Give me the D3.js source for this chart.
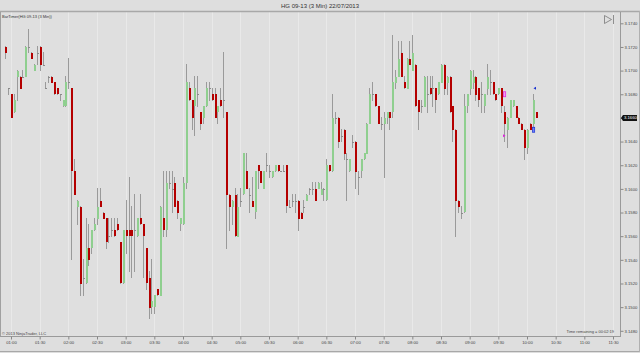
<!DOCTYPE html>
<html><head><meta charset="utf-8">
<script src="https://cdn.jsdelivr.net/npm/d3@7"></script>
<style>
html,body{margin:0;padding:0;background:#dedede;}
svg{display:block;}
text{font-family:"Liberation Sans",Arial,sans-serif;}
</style></head><body>
<svg id="c" width="640" height="353"></svg>
<script>
const title = "HG 09-13 (3 Min)  22/07/2013";
const indicatorLabel = "BarTimer(HG 09-13 (3 Min))";
const copyright = "© 2013 NinjaTrader, LLC";
const timerText = "Time remaining = 00:02:19";
const sessionDate = "2013-07-22";
const firstBarTime = "00:54";
const barMinutes = 3;

const open = [
3.1720,3.1685,3.1680,3.1665,3.1695,3.1695,3.1695,3.1695,3.1720,3.1715,
3.1700,3.1715,3.1720,3.1705,3.1685,3.1695,3.1695,3.1690,3.1685,3.1680,
3.1670,3.1670,3.1690,3.1685,3.1615,3.1585,3.1585,3.1525,3.1520,3.1550,
3.1550,3.1565,3.1575,3.1590,3.1580,3.1575,3.1560,3.1565,3.1565,3.1570,
3.1555,3.1520,3.1565,3.1565,3.1565,3.1565,3.1560,3.1575,3.1570,3.1550,
3.1525,3.1500,3.1500,3.1515,3.1510,3.1575,3.1565,3.1605,3.1600,3.1605,
3.1590,3.1570,3.1570,3.1605,3.1685,3.1675,3.1670,3.1680,3.1665,3.1660,
3.1670,3.1685,3.1680,3.1680,3.1665,3.1675,3.1675,3.1665,3.1595,3.1585,
3.1595,3.1560,3.1590,3.1595,3.1615,3.1595,3.1590,3.1580,3.1620,3.1615,
3.1600,3.1620,3.1615,3.1610,3.1615,3.1620,3.1615,3.1615,3.1620,3.1585,
3.1590,3.1590,3.1590,3.1580,3.1585,3.1590,3.1600,3.1600,3.1600,3.1600,
3.1595,3.1600,3.1590,3.1620,3.1615,3.1660,3.1660,3.1645,3.1650,3.1625,
3.1615,3.1640,3.1640,3.1610,3.1615,3.1625,3.1630,3.1655,3.1680,3.1680,
3.1670,3.1655,3.1655,3.1660,3.1665,3.1665,3.1690,3.1695,3.1715,3.1690,
3.1685,3.1710,3.1700,3.1705,3.1675,3.1670,3.1670,3.1680,3.1685,3.1685,
3.1685,3.1680,3.1690,3.1705,3.1690,3.1695,3.1670,3.1650,3.1590,3.1580,
3.1580,3.1670,3.1685,3.1690,3.1695,3.1685,3.1680,3.1670,3.1685,3.1690,
3.1690,3.1680,3.1680,3.1685,3.1665,3.1650,3.1660,3.1670,3.1670,3.1660,
3.1655,3.1650,3.1635,3.1655,3.1655,3.1665];
const high = [
3.1720,3.1685,3.1680,3.1680,3.1700,3.1695,3.1700,3.1720,3.1735,3.1715,
3.1705,3.1720,3.1720,3.1715,3.1690,3.1695,3.1695,3.1690,3.1685,3.1680,
3.1675,3.1695,3.1710,3.1685,3.1625,3.1590,3.1585,3.1540,3.1575,3.1570,
3.1565,3.1575,3.1600,3.1600,3.1580,3.1575,3.1575,3.1575,3.1575,3.1575,
3.1555,3.1565,3.1590,3.1610,3.1585,3.1595,3.1575,3.1595,3.1570,3.1550,
3.1530,3.1540,3.1510,3.1515,3.1585,3.1615,3.1615,3.1615,3.1615,3.1610,
3.1590,3.1575,3.1610,3.1705,3.1690,3.1675,3.1695,3.1695,3.1665,3.1670,
3.1690,3.1690,3.1685,3.1685,3.1670,3.1685,3.1715,3.1665,3.1595,3.1590,
3.1600,3.1595,3.1600,3.1630,3.1630,3.1600,3.1610,3.1615,3.1620,3.1615,
3.1615,3.1630,3.1620,3.1615,3.1620,3.1620,3.1615,3.1620,3.1620,3.1590,
3.1595,3.1595,3.1590,3.1580,3.1590,3.1595,3.1600,3.1605,3.1605,3.1605,
3.1605,3.1600,3.1625,3.1620,3.1680,3.1665,3.1660,3.1650,3.1650,3.1630,
3.1625,3.1645,3.1640,3.1615,3.1625,3.1630,3.1655,3.1685,3.1690,3.1680,
3.1670,3.1660,3.1665,3.1665,3.1665,3.1730,3.1700,3.1725,3.1725,3.1695,
3.1710,3.1725,3.1730,3.1705,3.1675,3.1675,3.1695,3.1695,3.1695,3.1695,
3.1685,3.1690,3.1705,3.1705,3.1695,3.1695,3.1670,3.1650,3.1590,3.1585,
3.1680,3.1680,3.1700,3.1700,3.1695,3.1685,3.1690,3.1680,3.1705,3.1700,
3.1690,3.1680,3.1685,3.1685,3.1670,3.1660,3.1675,3.1675,3.1670,3.1660,
3.1655,3.1650,3.1650,3.1655,3.1680,3.1665];
const low = [
3.1710,3.1680,3.1660,3.1665,3.1675,3.1685,3.1695,3.1695,3.1715,3.1710,
3.1700,3.1705,3.1700,3.1705,3.1685,3.1690,3.1690,3.1680,3.1680,3.1675,
3.1670,3.1670,3.1685,3.1540,3.1595,3.1570,3.1510,3.1510,3.1520,3.1535,
3.1545,3.1565,3.1570,3.1585,3.1575,3.1550,3.1555,3.1560,3.1560,3.1565,
3.1520,3.1520,3.1545,3.1530,3.1525,3.1530,3.1560,3.1570,3.1525,3.1515,
3.1490,3.1495,3.1495,3.1510,3.1510,3.1560,3.1560,3.1600,3.1580,3.1585,
3.1575,3.1565,3.1570,3.1600,3.1675,3.1650,3.1645,3.1670,3.1650,3.1655,
3.1670,3.1675,3.1675,3.1660,3.1655,3.1670,3.1660,3.1550,3.1565,3.1570,
3.1560,3.1560,3.1585,3.1595,3.1600,3.1580,3.1585,3.1575,3.1600,3.1605,
3.1600,3.1615,3.1610,3.1610,3.1615,3.1615,3.1615,3.1615,3.1580,3.1585,
3.1585,3.1580,3.1565,3.1575,3.1580,3.1590,3.1595,3.1595,3.1590,3.1600,
3.1595,3.1590,3.1590,3.1615,3.1615,3.1655,3.1635,3.1640,3.1625,3.1590,
3.1615,3.1635,3.1600,3.1595,3.1610,3.1625,3.1630,3.1655,3.1675,3.1670,
3.1655,3.1650,3.1610,3.1655,3.1650,3.1660,3.1685,3.1695,3.1695,3.1685,
3.1685,3.1705,3.1700,3.1670,3.1650,3.1665,3.1670,3.1665,3.1680,3.1670,
3.1665,3.1680,3.1690,3.1680,3.1680,3.1665,3.1640,3.1560,3.1580,3.1575,
3.1580,3.1665,3.1680,3.1685,3.1675,3.1670,3.1665,3.1665,3.1680,3.1680,
3.1680,3.1675,3.1680,3.1665,3.1640,3.1635,3.1660,3.1670,3.1660,3.1655,
3.1650,3.1625,3.1630,3.1650,3.1650,3.1660];
const close = [
3.1715,3.1685,3.1660,3.1675,3.1700,3.1685,3.1695,3.1720,3.1720,3.1710,
3.1705,3.1715,3.1705,3.1705,3.1685,3.1695,3.1690,3.1680,3.1680,3.1680,
3.1675,3.1690,3.1690,3.1615,3.1595,3.1590,3.1520,3.1525,3.1550,3.1540,
3.1565,3.1570,3.1585,3.1585,3.1575,3.1555,3.1560,3.1565,3.1560,3.1565,
3.1520,3.1565,3.1560,3.1560,3.1560,3.1565,3.1575,3.1570,3.1560,3.1520,
3.1500,3.1505,3.1510,3.1510,3.1585,3.1565,3.1605,3.1605,3.1600,3.1585,
3.1580,3.1575,3.1605,3.1690,3.1675,3.1660,3.1685,3.1680,3.1655,3.1670,
3.1685,3.1685,3.1675,3.1660,3.1670,3.1670,3.1675,3.1595,3.1585,3.1590,
3.1560,3.1585,3.1590,3.1630,3.1600,3.1595,3.1585,3.1615,3.1615,3.1605,
3.1615,3.1620,3.1615,3.1615,3.1620,3.1615,3.1615,3.1615,3.1585,3.1585,
3.1590,3.1590,3.1575,3.1575,3.1585,3.1595,3.1600,3.1600,3.1590,3.1605,
3.1600,3.1600,3.1620,3.1615,3.1660,3.1660,3.1640,3.1645,3.1630,3.1625,
3.1625,3.1640,3.1615,3.1610,3.1625,3.1630,3.1655,3.1680,3.1680,3.1670,
3.1655,3.1655,3.1660,3.1665,3.1660,3.1690,3.1695,3.1710,3.1695,3.1685,
3.1710,3.1705,3.1715,3.1670,3.1665,3.1670,3.1695,3.1680,3.1680,3.1685,
3.1675,3.1690,3.1705,3.1685,3.1695,3.1665,3.1650,3.1590,3.1585,3.1580,
3.1670,3.1680,3.1700,3.1695,3.1680,3.1675,3.1680,3.1680,3.1695,3.1690,
3.1680,3.1675,3.1685,3.1670,3.1655,3.1660,3.1675,3.1675,3.1660,3.1655,
3.1650,3.1635,3.1650,3.1650,3.1675,3.1660];

const priceTicks = [3.148,3.150,3.152,3.154,3.156,3.158,3.160,3.162,3.164,3.166,3.168,3.170,3.172,3.174];
const timeTicks = ["01:00","01:30","02:00","02:30","03:00","03:30","04:00","04:30","05:00","05:30","06:00","06:30","07:00","07:30","08:00","08:30","09:00","09:30","10:00","10:30","11:00","11:30"];
const lastPrice = 3.1660;
// swing markers drawn by an indicator
const markerBar   = [174, 174, 184, 184];
const markerPrice = [3.1680, 3.1645, 3.1685, 3.1650];
const markerKind  = ["sellBar", "sellArrow", "buyArrow", "buyBar"];

const parseT = d3.timeParse("%Y-%m-%d %H:%M");
const t0 = parseT(sessionDate + " " + firstBarTime);
const bars = open.map((o, i) => ({
  t: d3.timeMinute.offset(t0, i * barMinutes),
  o, h: high[i], l: low[i], c: close[i]
}));

const svg = d3.select("#c");
const W = 640, H = 353;
const plotL = 1, plotR = 620, plotT = 12, plotB = 336;

const x = d3.scaleTime()
  .domain([parseT(sessionDate + " 01:00"), parseT(sessionDate + " 11:30")])
  .range([11, 613]);
const y = d3.scaleLinear().domain([3.148, 3.174]).range([330.8, 23.3]);

// background
svg.append("rect").attr("width", W).attr("height", H).attr("fill", "#dedede");
svg.append("rect").attr("x", plotL).attr("y", plotT).attr("width", plotR - plotL).attr("height", plotB - plotT).attr("fill", "#dfdfdf");

// vertical grid
const tickDates = timeTicks.map(s => parseT(sessionDate + " " + s));
svg.append("g").selectAll("line").data(tickDates).join("line")
  .attr("x1", d => Math.round(x(d)) + 0.5).attr("x2", d => Math.round(x(d)) + 0.5)
  .attr("y1", plotT).attr("y2", plotB)
  .attr("stroke", "#e9e9e9").attr("stroke-width", 1);

// frame lines
svg.append("line").attr("x1", 0).attr("x2", W).attr("y1", 11.5).attr("y2", 11.5).attr("stroke", "#a8a8a8").attr("stroke-width", 1.5);
svg.append("line").attr("x1", 0.5).attr("x2", 0.5).attr("y1", plotT).attr("y2", plotB).attr("stroke", "#a0a0a0");
svg.append("line").attr("x1", 0).attr("x2", plotR).attr("y1", plotB + 0.5).attr("y2", plotB + 0.5).attr("stroke", "#9a9a9a");
svg.append("line").attr("x1", plotR + 0.5).attr("x2", plotR + 0.5).attr("y1", plotT).attr("y2", plotB + 1).attr("stroke", "#9a9a9a");
svg.append("line").attr("x1", 0).attr("x2", W).attr("y1", 351.5).attr("y2", 351.5).attr("stroke", "#a8a8a8");
svg.append("line").attr("x1", W - 0.5).attr("x2", W - 0.5).attr("y1", 11).attr("y2", 352).attr("stroke", "#b0b0b0");

// axes
const yAxis = d3.axisRight(y).tickValues(priceTicks).tickSize(3).tickPadding(1)
  .tickFormat(d => Math.abs(d - lastPrice) < 1e-6 ? "" : d3.format(".4f")(d));
const gy = svg.append("g").attr("transform", `translate(${plotR + 0.5},0)`).call(yAxis);
gy.select(".domain").remove();
gy.selectAll("line").attr("stroke", "#888");
gy.selectAll("text").attr("font-size", 4.2).attr("fill", "#444").attr("font-family", "Liberation Sans, Arial, sans-serif");

const xAxis = d3.axisBottom(x).tickValues(tickDates).tickSize(3).tickPadding(1.5)
  .tickFormat(d3.timeFormat("%H:%M"));
const gx = svg.append("g").attr("transform", `translate(0,${plotB + 0.5})`).call(xAxis);
gx.select(".domain").remove();
gx.selectAll("line").attr("stroke", "#888");
gx.selectAll("text").attr("font-size", 4.2).attr("fill", "#444").attr("font-family", "Liberation Sans, Arial, sans-serif");

// candles
const gC = svg.append("g").attr("shape-rendering", "crispEdges");
const cx = d => Math.round(x(d.t));
gC.selectAll("line.wick").data(bars).join("line").attr("class", "wick")
  .attr("x1", d => cx(d) + 0.5).attr("x2", d => cx(d) + 0.5)
  .attr("y1", d => y(d.h) - 0.5).attr("y2", d => y(d.l) + 0.5)
  .attr("stroke", "#9a9a9a").attr("stroke-width", 1);
gC.selectAll("rect.body").data(bars.filter(d => d.o !== d.c)).join("rect").attr("class", "body")
  .attr("x", d => cx(d)).attr("width", 2)
  .attr("y", d => Math.round(y(Math.max(d.o, d.c))))
  .attr("height", d => Math.max(1, Math.round(Math.abs(y(d.o) - y(d.c)))))
  .attr("fill", d => d.c > d.o ? "#8fcf8f" : "#b40000");
gC.selectAll("line.doji").data(bars.filter(d => d.o === d.c)).join("line").attr("class", "doji")
  .attr("x1", d => cx(d)).attr("x2", d => cx(d) + 2)
  .attr("y1", d => Math.round(y(d.o)) + 0.5).attr("y2", d => Math.round(y(d.o)) + 0.5)
  .attr("stroke", "#8a8a8a").attr("stroke-width", 1);

// markers
const mk = svg.append("g");
markerBar.forEach((b, i) => {
  const px = Math.round(x(bars[b].t)), py = y(markerPrice[i]);
  const kind = markerKind[i];
  const col = kind.startsWith("sell") ? "#e020e0" : "#1830d0";
  if (kind.endsWith("Bar")) {
    mk.append("rect").attr("x", px - 0.5).attr("y", py - 2.5).attr("width", 2.2).attr("height", 5)
      .attr("fill", kind.startsWith("sell") ? "#f0a0f0" : "#7080ff").attr("stroke", col).attr("stroke-width", 0.7);
  } else if (kind === "sellArrow") {
    mk.append("path").attr("d", `M${px - 1},${py - 1.5}L${px + 1.5},${py}L${px - 1},${py + 1.5}Z`).attr("fill", col);
  } else {
    mk.append("path").attr("d", `M${px + 3},${py - 1.5}L${px + 0.5},${py}L${px + 3},${py + 1.5}Z`).attr("fill", col);
  }
});

// last price marker
const ly = y(lastPrice);
svg.append("path").attr("d", `M${plotR + 1},${ly} L${plotR + 3},${ly - 3} H${plotR + 17} V${ly + 3} H${plotR + 3} Z`).attr("fill", "#111");
svg.append("text").attr("x", plotR + 4).attr("y", ly + 1.5).attr("font-size", 4.2).attr("fill", "#fff").text(d3.format(".4f")(lastPrice));

// texts
svg.append("text").attr("x", 320).attr("y", 8).attr("text-anchor", "middle").attr("font-size", 6).attr("fill", "#333").text(title);
svg.append("text").attr("x", 2).attr("y", 18).attr("font-size", 4).attr("fill", "#333").text(indicatorLabel);
svg.append("text").attr("x", 2).attr("y", 334.5).attr("font-size", 4).attr("fill", "#444").text(copyright);
svg.append("text").attr("x", 614).attr("y", 333).attr("text-anchor", "end").attr("font-size", 4).attr("fill", "#444").text(timerText);

// scroll-to-end icon
svg.append("path").attr("d", "M604.5,15.5 L611.5,19.5 L604.5,23.5 Z M613.5,15 V24").attr("fill", "none").attr("stroke", "#777").attr("stroke-width", 0.8);
</script>
</body></html>
